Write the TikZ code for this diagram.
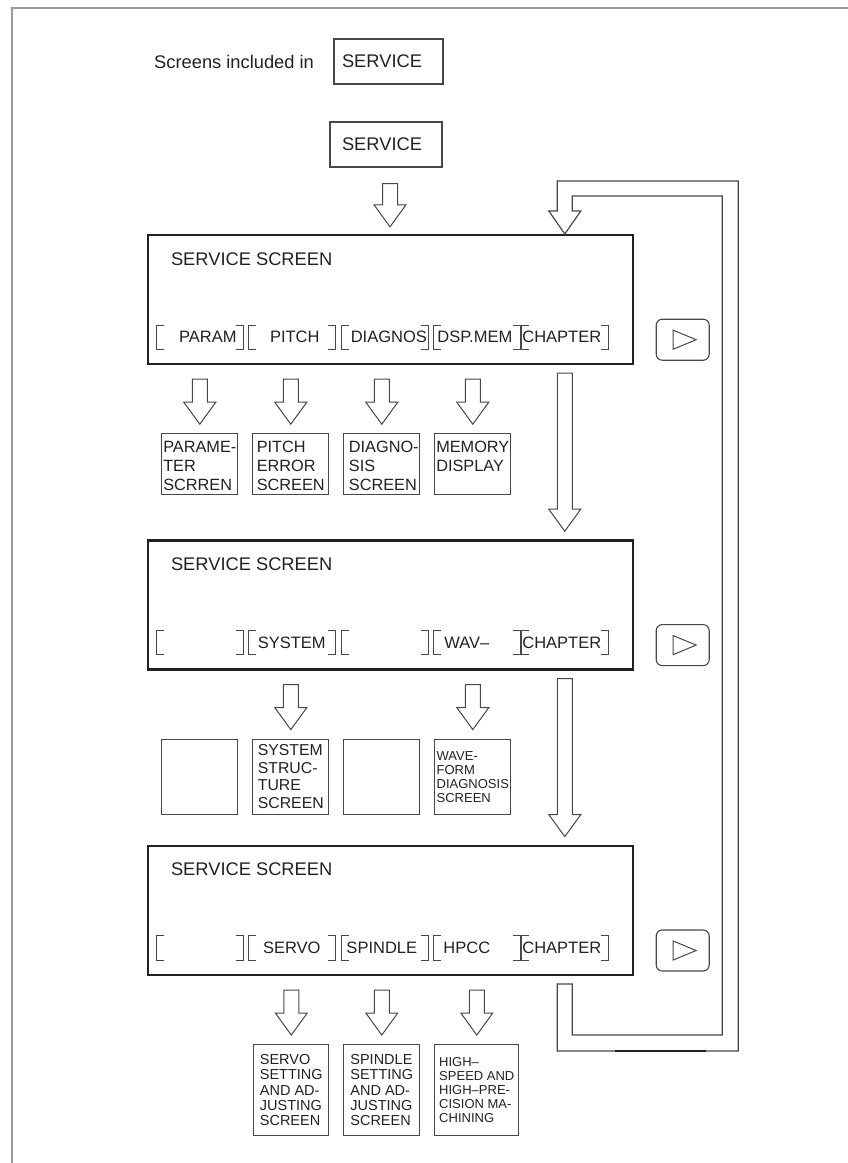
\documentclass[tikz,border=0pt]{standalone}
\usepackage{fontspec}
\setmainfont{Liberation Sans}
\usepackage{tikz}
\usetikzlibrary{calc,positioning}
\definecolor{linegrey}{gray}{0.28}
\definecolor{framegrey}{gray}{0.6}
\definecolor{inkgrey}{gray}{0.13}

\newcommand{\bigtxt}{\fontsize{18.3pt}{20pt}\selectfont}
\newcommand{\keytxt}{\fontsize{16.5pt}{18pt}\selectfont}
\newcommand{\rowonetxt}{\fontsize{16.3pt}{18.8pt}\selectfont}
\newcommand{\boxtxt}{\fontsize{15.8pt}{17.5pt}\selectfont}
\newcommand{\midtxt}{\fontsize{14.5pt}{15.2pt}\selectfont}
\newcommand{\smalltxt}{\fontsize{13pt}{14pt}\selectfont}

% hollow block arrow pointing down: shaft top, tip
\newcommand{\hollowdown}[2]{\draw[blockarrow] let \p1=#1, \p2=#2 in
  (\x1-7.5pt,\y1) -- (\x1+7.5pt,\y1) -- (\x1+7.5pt,\y2+22pt) -- (\x1+16pt,\y2+22pt)
  -- (\x1,\y2) -- (\x1-16pt,\y2+22pt) -- (\x1-7.5pt,\y2+22pt) -- cycle;}

\begin{document}
\begin{tikzpicture}[x=1pt,y=-1pt,node distance=174pt]

\tikzset{screen/.style={draw=inkgrey,line width=2.4pt,minimum width=485pt,minimum height=129pt,inner sep=0pt},
keybox/.style={draw=linegrey,line width=1.1pt,font=\bigtxt,text=inkgrey,align=left,minimum height=45pt,inner ysep=0pt},
softkey/.style={minimum width=86pt,minimum height=24pt,inner sep=0pt},
keylabel/.style={font=\keytxt,text=inkgrey,inner sep=0pt},
bracket/.style={draw=linegrey,line width=0.9pt},
subbox/.style={draw=linegrey,line width=1.1pt,minimum width=76pt,font=\boxtxt,text=inkgrey,align=left,inner sep=0pt},
boxlabel/.style={font=\rowonetxt,text=inkgrey,align=left,inner sep=0pt,anchor=north},
nextbtn/.style={draw=linegrey,line width=1.1pt,rounded corners=6pt,minimum width=53pt,minimum height=41pt},
blockarrow/.style={draw=linegrey,line width=1pt,line join=miter},
loopline/.style={draw=linegrey,line width=1.2pt}}

\useasboundingbox (0,0) rectangle (848,1163);

% page frame
\draw[framegrey,line width=2pt] (12,1163) -- (12,8) -- (848,8);

% legend
\node[font=\bigtxt,text=inkgrey,anchor=west,inner sep=0pt] (legend) at (154,62) {Screens included in};
\node[keybox,inner xsep=8pt,text width=93pt] (legendbox) at (388.5,61.5) {SERVICE};
\node[keybox,inner xsep=12pt,text width=88pt] (svc) at (386,144.5) {SERVICE};

% screens
\node[screen] (scr1) at (390.5,299.5) {};
\node[screen,below=of scr1] (scr2) {};
\node[screen,below=of scr2] (scr3) {};
\foreach \s in {1,2,3} \node[font=\bigtxt,text=inkgrey,anchor=west,inner sep=0pt] (title\s) at ($(scr\s.north west)+(24,25)$) {SERVICE SCREEN};

% soft keys
\foreach \s in {1,2,3} \foreach \k/\x in {1/201,2/293,3/386,4/478,5/566}
  \node[softkey] (k\s\k) at ($(scr\s.south west)+(\x-148,-28)$) {};
\foreach \s in {1,2,3} \foreach \k in {1,...,5} {
  \draw[bracket] ($(k\s\k.north west)+(7,0)$) -- (k\s\k.north west) -- (k\s\k.south west) -- ++(7,0);
  \draw[bracket] ($(k\s\k.north east)+(-7,0)$) -- (k\s\k.north east) -- (k\s\k.south east) -- ++(-7,0);}
\foreach \s/\k/\lab/\dx in {1/1/PARAM/8,1/2/PITCH/3,1/3/DIAGNOS/4,1/4/DSP.MEM/-2,1/5/CHAPTER/-3,
  2/2/SYSTEM/0,2/4/WAV--/-10,2/5/CHAPTER/-3,3/2/SERVO/0,3/3/SPINDLE/-3,3/4/HPCC/-10,3/5/CHAPTER/-3}
  \node[keylabel] (lab\s\k) at ($(k\s\k)+(\dx,0)$) {\lab};

% next-page buttons
\foreach \s in {1,2,3} {
  \node[nextbtn] (btn\s) at ($(scr\s.south east)+(48.5,-25.5)$) {};
  \draw[linegrey,line width=1pt] ($(btn\s)+(-9.5,-9.5)$) -- ($(btn\s)+(13.5,0)$) -- ($(btn\s)+(-9.5,9.5)$) -- cycle;}

% screens reached from the keys
\foreach \b/\x in {b11/53,b12/144,b13/235,b14/326}
  \node[subbox,anchor=north,minimum height=61pt] (\b) at ($(scr1.south west)+(\x,68)$) {};
\node[boxlabel] (t11) at ($(b11.north)+(0,8)$) {PARAME-\\TER\\SCRREN};
\node[boxlabel] (t12) at ($(b12.north)+(0,8)$) {PITCH\\ERROR\\SCREEN};
\node[boxlabel] (t13) at ($(b13.north)+(2,8)$) {DIAGNO-\\SIS\\SCREEN};
\node[boxlabel] (t14) at ($(b14.north)+(0,8)$) {MEMORY\\DISPLAY};

\node[subbox,anchor=north,minimum height=75pt] (b21) at ($(scr2.south west)+(53,68)$) {};
\node[subbox,anchor=north,minimum height=75pt] (b22) at ($(scr2.south west)+(144,68)$) {SYSTEM\\STRUC-\\TURE\\SCREEN};
\node[subbox,anchor=north,minimum height=75pt] (b23) at ($(scr2.south west)+(235,68)$) {};
\node[subbox,anchor=north,minimum height=75pt,font=\smalltxt] (b24) at ($(scr2.south west)+(326,68)$) {WAVE-\\FORM\\DIAGNOSIS\\SCREEN};

\node[subbox,anchor=north,minimum height=91pt,minimum width=75pt,font=\midtxt] (b31) at ($(scr3.south west)+(144.5,68)$) {SERVO\\SETTING\\AND AD-\\JUSTING\\SCREEN};
\node[subbox,anchor=north,minimum height=91pt,font=\midtxt] (b32) at ($(scr3.south west)+(235,68)$) {SPINDLE\\SETTING\\AND AD-\\JUSTING\\SCREEN};
\node[subbox,anchor=north,minimum height=91pt,minimum width=84pt,font=\smalltxt] (b33) at ($(scr3.south west)+(330,68)$) {HIGH--\\SPEED AND\\HIGH--PRE-\\CISION MA-\\CHINING};

% arrows
\hollowdown{($(svc.south)+(4,16)$)}{($(svc.south |- scr1.north)+(4,-7)$)}
\foreach \s/\b in {1/b11,1/b12,1/b13,1/b14,2/b22,2/b24,3/b31,3/b32,3/b33} {
  \hollowdown{($(scr\s.south -| \b.north)+(0,14)$)}{($(\b.north)+(0,-9)$)}}
\hollowdown{($(scr1.south -| k15)+(0,8)$)}{($(scr2.north -| k15)+(0,-8)$)}
\hollowdown{($(scr2.south -| k25)+(0,8)$)}{($(scr3.north -| k25)+(0,-8)$)}

% return loop to the first screen
\coordinate (loopstart) at ($(scr3.south -| k35)+(-7.5,8)$);
\draw[loopline,line join=miter] (loopstart) -- ++(0,67) -- ++(181,0) -- ++(0,-870) -- ++(-181,0) -- ++(0,30)
  -- ++(-8.5,0) -- ++(16,23) -- ++(16,-23) -- ++(-8.5,0) -- ++(0,-15) -- ++(150,0) -- ++(0,839)
  -- ++(-150,0) -- ++(0,-51) -- cycle;
\draw[inkgrey,line width=2pt] ($(loopstart)+(58,67)$) -- ++(91,0);

\end{tikzpicture}
\end{document}
